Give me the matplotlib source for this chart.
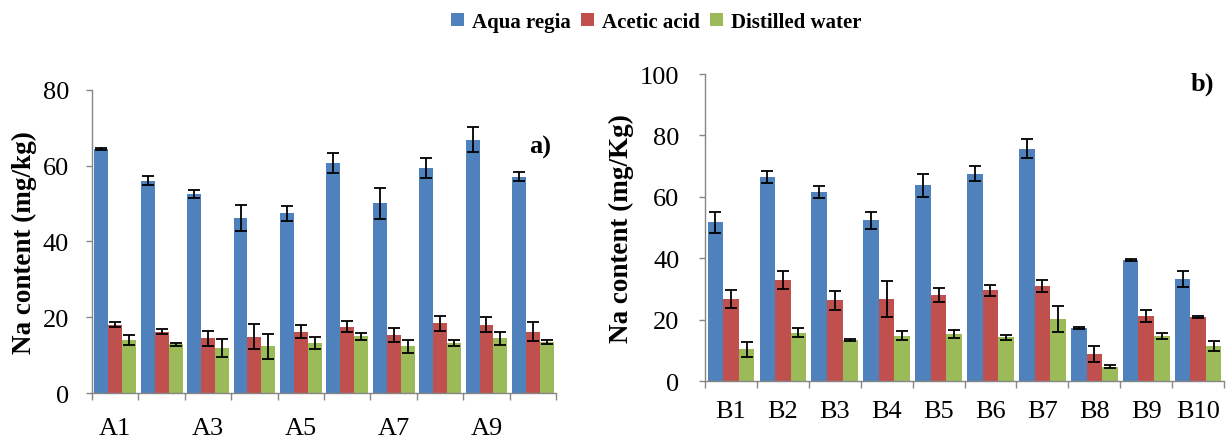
import numpy as np
import matplotlib
matplotlib.use("Agg")
import matplotlib.pyplot as plt
from matplotlib.patches import Patch

plt.rcParams['font.family'] = ['Liberation Serif', 'DejaVu Serif']

# Donnees (moyenne et ecart-type)
series = ["Aqua regia", "Acetic acid", "Distilled water"]
couleurs = ["#4F81BD", "#C0504D", "#9BBB59"]

sites_a = ["A1", "A2", "A3", "A4", "A5", "A6", "A7", "A8", "A9", "A10"]
aqua_a = [64.4, 56.0, 52.5, 46.1, 47.4, 60.6, 50.0, 59.3, 66.8, 57.1]
aqua_a_err = [0.3, 1.2, 1.1, 3.5, 2.0, 2.6, 4.0, 2.6, 3.3, 1.2]
acet_a = [18.0, 16.2, 14.4, 14.9, 16.2, 17.5, 15.3, 18.4, 18.0, 16.2]
acet_a_err = [0.7, 0.7, 2.0, 3.3, 1.8, 1.5, 1.8, 2.0, 2.0, 2.4]
eau_a = [14.0, 12.9, 11.8, 12.3, 13.2, 15.0, 12.3, 13.2, 14.4, 13.5]
eau_a_err = [1.3, 0.4, 2.4, 3.3, 1.5, 0.9, 1.8, 0.7, 1.7, 0.5]

sites_b = ["B1", "B2", "B3", "B4", "B5", "B6", "B7", "B8", "B9", "B10"]
aqua_b = [51.7, 66.4, 61.5, 52.3, 63.7, 67.5, 75.7, 17.2, 39.3, 33.2]
aqua_b_err = [3.5, 1.9, 1.9, 2.7, 3.8, 2.5, 3.0, 0.3, 0.3, 2.7]
acet_b = [26.7, 32.8, 26.3, 26.7, 27.9, 29.5, 31.0, 8.8, 21.2, 20.8]
acet_b_err = [3.0, 2.9, 3.1, 6.0, 2.3, 1.8, 1.9, 2.6, 2.0, 0.3]
eau_b = [10.3, 15.8, 13.4, 14.7, 15.3, 14.2, 20.2, 4.7, 14.7, 11.4]
eau_b_err = [2.5, 1.4, 0.3, 1.5, 1.4, 0.9, 4.1, 0.5, 1.0, 1.5]

fig = plt.figure(figsize=(12.27, 4.39), dpi=100)
ax_a = fig.add_axes([0.0750, 0.1025, 0.3782, 0.6909])
ax_b = fig.add_axes([0.5746, 0.1298, 0.4230, 0.6993])


def tracer(ax, sites, valeurs, erreurs, ymax, etiquettes, lettre, pad_y, pad_x, ylabel):
    x = np.arange(len(sites))
    w = 0.3
    for i, (v, e) in enumerate(zip(valeurs, erreurs)):
        ax.bar(x + (i - 1) * w, v, w, color=couleurs[i], yerr=e,
               error_kw=dict(ecolor='black', elinewidth=1.3, capsize=4, capthick=1.3))

    ax.set_xlim(-0.5, len(sites) - 0.5)
    ax.set_ylim(0, ymax)
    ax.set_yticks(np.arange(0, ymax + 1, 20))

    # etiquettes au centre, graduations aux limites des categories
    ax.set_xticks(x)
    ax.set_xticklabels(etiquettes)
    ax.set_xticks(np.arange(-0.5, len(sites), 1), minor=True)
    ax.tick_params(axis='x', which='major', length=0, pad=pad_x, labelsize=19)
    ax.tick_params(axis='x', which='minor', length=5, width=1, color='#868686', direction='out')
    ax.tick_params(axis='y', length=4.5, width=1, color='#868686', pad=pad_y, labelsize=19)

    for s in ['top', 'right']:
        ax.spines[s].set_visible(False)
    for s in ['left', 'bottom']:
        ax.spines[s].set_color('#868686')
        ax.spines[s].set_linewidth(1)

    ax.set_ylabel(ylabel, fontsize=19.5, fontweight='bold', labelpad=4)
    return ax


tracer(ax_a, sites_a, [aqua_a, acet_a, eau_a], [aqua_a_err, acet_a_err, eau_a_err], 80,
       [s if i % 2 == 0 else "" for i, s in enumerate(sites_a)], "a)", 12, 17,
       "Na content (mg/kg)")
ax_a.text(0.99, 0.814, "a)", transform=ax_a.transAxes, ha='right', va='center',
          fontsize=19, fontweight='bold')

tracer(ax_b, sites_b, [aqua_b, acet_b, eau_b], [aqua_b_err, acet_b_err, eau_b_err], 100,
       sites_b, "b)", 14, 14, "Na content (mg/Kg)")
ax_b.text(0.98, 0.97, "b)", transform=ax_b.transAxes, ha='right', va='center',
          fontsize=19, fontweight='bold')

# Legende commune en haut
poignees = [Patch(facecolor=c, edgecolor='none') for c in couleurs]
fig.legend(poignees, series, loc='center', bbox_to_anchor=(0.535, 0.948), ncol=3,
           frameon=False, fontsize=15, handlelength=0.6, handleheight=0.6,
           handletextpad=0.4, columnspacing=0.5, prop=dict(size=15, weight='bold'))

plt.savefig("out.png", dpi=100)
